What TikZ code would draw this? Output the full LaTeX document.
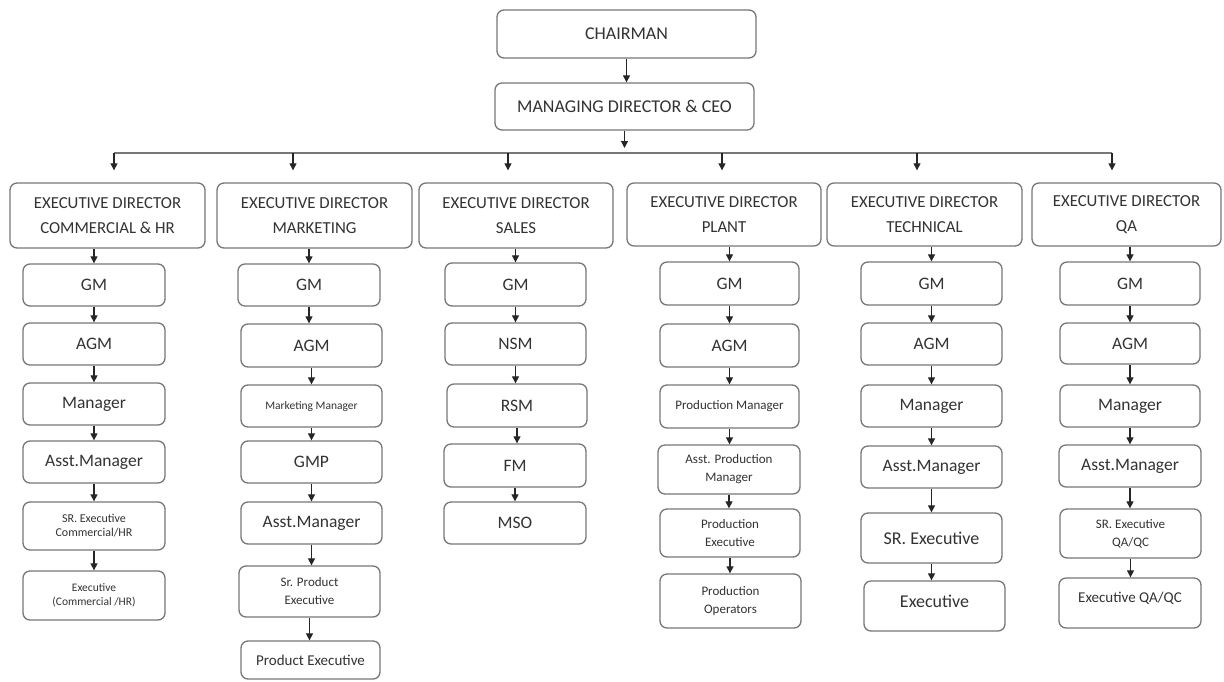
\documentclass[tikz,border=0pt]{standalone}
\usepackage{fontspec}
\setmainfont{Carlito}
\usetikzlibrary{arrows.meta}
\definecolor{edge}{HTML}{777777}
\definecolor{ink}{HTML}{333333}
\begin{document}
\begin{tikzpicture}[x=1pt,y=-1pt,
  box/.style={draw=edge, line width=1.3pt, rounded corners=7pt, inner sep=0pt,
    text=ink, align=center, font=\fontsize{17.5}{20}\selectfont},
  spanbox/.style args={#1,#2,#3,#4}{at={({(#1+#3)/2},{(#2+#4)/2})},
    minimum width={#3-#1}, minimum height={#4-#2}},
  edbox/.style={box, font=\fontsize{16.8}{25}\selectfont},
  headbox/.style={box, font=\fontsize{18}{20}\selectfont},
  fsA/.style={font=\fontsize{11.5}{14}\selectfont},
  fsB/.style={font=\fontsize{12}{14}\selectfont},
  fsC/.style={font=\fontsize{13}{18}\selectfont},
  fsD/.style={font=\fontsize{15}{18}\selectfont},
  fsE/.style={font=\fontsize{18}{20}\selectfont},
  arr/.style={-{Triangle[length=7pt,width=7pt]}, line width=1.1pt, black!85},
  bus/.style={line width=1.3pt, edge}]
\fill[white] (0,0) rectangle (1224,681);
\useasboundingbox (0,0) rectangle (1224,681);

% top of the chart
\node[headbox, spanbox={497,10,756,58}] (ch) {CHAIRMAN};
\node[headbox, spanbox={495,83,754,130}] (md) {MANAGING DIRECTOR \& CEO};

% executive directors
\node[edbox, spanbox={10,183,205,248}]    (e1) {EXECUTIVE DIRECTOR\\COMMERCIAL \& HR};
\node[edbox, spanbox={217,183,412,248}]   (e2) {EXECUTIVE DIRECTOR\\MARKETING};
\node[edbox, spanbox={419,183,613,248}]   (e3) {EXECUTIVE DIRECTOR\\SALES};
\node[edbox, spanbox={627,183,821,246}]   (e4) {EXECUTIVE DIRECTOR\\PLANT};
\node[edbox, spanbox={827,183,1022,246}]  (e5) {EXECUTIVE DIRECTOR\\TECHNICAL};
\node[edbox, spanbox={1032,183,1221,246}] (e6) {EXECUTIVE DIRECTOR\\QA};

% commercial & HR
\node[box, spanbox={23,264,165,306}] (a1) {GM};
\node[box, spanbox={23,323,165,365}] (a2) {AGM};
\node[box, spanbox={23,383,165,425}] (a3) {Manager};
\node[box, spanbox={23,441,165,483}] (a4) {Asst.Manager};
\node[box, fsB, spanbox={23,502,165,550}] (a5) {SR. Executive\\Commercial/HR};
\node[box, fsA, spanbox={23,571,165,620}] (a6) {Executive\\(Commercial /HR)};

% marketing
\node[box, spanbox={238,264,380,306}] (b1) {GM};
\node[box, spanbox={241,324,382,367}] (b2) {AGM};
\node[box, fsA, spanbox={241,385,382,427}] (b3) {Marketing Manager};
\node[box, spanbox={241,441,382,483}] (b4) {GMP};
\node[box, spanbox={241,502,382,544}] (b5) {Asst.Manager};
\node[box, fsC, spanbox={239,566,380,617}] (b6) {Sr. Product\\Executive};
\node[box, fsD, spanbox={241,641,380,679}] (b7) {Product Executive};

% sales
\node[box, spanbox={445,263,586,306}] (c1) {GM};
\node[box, spanbox={445,323,586,365}] (c2) {NSM};
\node[box, spanbox={447,384,587,427}] (c3) {RSM};
\node[box, spanbox={444,444,586,487}] (c4) {FM};
\node[box, spanbox={444,502,586,544}] (c5) {MSO};

% plant
\node[box, spanbox={660,262,799,305}] (d1) {GM};
\node[box, spanbox={660,324,799,367}] (d2) {AGM};
\node[box, fsC, spanbox={660,385,799,428}] (d3) {Production Manager};
\node[box, fsC, spanbox={658,445,800,494}] (d4) {Asst. Production\\Manager};
\node[box, fsC, spanbox={660,509,800,557}] (d5) {Production\\Executive};
\node[box, fsC, spanbox={660,574,801,628}] (d6) {Production\\Operators};

% technical
\node[box, spanbox={861,262,1002,305}] (f1) {GM};
\node[box, spanbox={861,323,1002,365}] (f2) {AGM};
\node[box, spanbox={861,385,1002,427}] (f3) {Manager};
\node[box, spanbox={861,446,1002,488}] (f4) {Asst.Manager};
\node[box, fsE, spanbox={861,513,1002,563}] (f5) {SR. Executive};
\node[box, fsE, spanbox={864,581,1005,631}] (f6) {\raisebox{10pt}{Executive}};

% quality assurance
\node[box, spanbox={1060,262,1200,305}] (g1) {GM};
\node[box, spanbox={1060,323,1200,364}] (g2) {AGM};
\node[box, spanbox={1060,385,1200,427}] (g3) {Manager};
\node[box, spanbox={1059,445,1201,487}] (g4) {Asst.Manager};
\node[box, fsC, spanbox={1060,509,1201,558}] (g5) {SR. Executive\\QA/QC};
\node[box, fsD, spanbox={1059,578,1201,628}] (g6) {\raisebox{12pt}{Executive QA/QC}};

% distribution line under the managing director
\coordinate (t1) at (114,153);
\coordinate (t2) at (293,153);
\coordinate (t3) at (508,153);
\coordinate (t4) at (722,153);
\coordinate (t5) at (917,153);
\coordinate (t6) at (1112,153);
\draw[bus] (t1) -- (t6);

\draw[arr] (ch.south) -- (ch.south |- md.north);
\draw[arr, shorten >=5pt] (md.south) -- (md.south |- t1);
\foreach \t/\e in {t1/e1,t2/e2,t3/e3,t4/e4,t5/e5,t6/e6}
  \draw[arr, shorten >=12pt] (\t) -- (\t |- \e.north);

% directors to their general managers
\foreach \e/\g in {e1/a1,e2/b1,e3/c1,e4/d1,e5/f1,e6/g1}
  \draw[arr] (\e.south -| \g.north) -- (\g.north);

% reporting chains
\foreach \p/\q in {a1/a2,a2/a3,a3/a4,a4/a5,a5/a6,
                   b1/b2,b2/b3,b3/b4,b4/b5,b5/b6,b6/b7,
                   c1/c2,c2/c3,c3/c4,c4/c5,
                   d1/d2,d2/d3,d3/d4,d4/d5,d5/d6,
                   f1/f2,f2/f3,f3/f4,f4/f5,f5/f6,
                   g1/g2,g2/g3,g3/g4,g4/g5,g5/g6}
  \draw[arr] (\p.south) -- (\p.south |- \q.north);
\end{tikzpicture}
\end{document}
